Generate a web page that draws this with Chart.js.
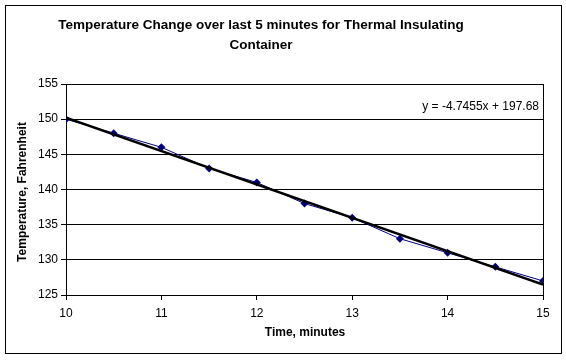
<!DOCTYPE html>
<html>
<head>
<meta charset="utf-8">
<script src="https://cdn.jsdelivr.net/npm/chart.js@4"></script>
<style>
  html, body { margin: 0; padding: 0; background: #fff; }
  #wrap { width: 566px; height: 360px; }
</style>
</head>
<body>
<div id="wrap"><canvas id="chart" width="566" height="360"></canvas></div>
<script>
const minutes = [10, 10.5, 11, 11.5, 12, 12.5, 13, 13.5, 14, 14.5, 15];
const temps = [150, 148, 146, 143, 141, 138, 136, 133, 131, 129, 127];
const trendSlope = -4.7455;
const trendIntercept = 197.68;
const trendLabel = "y = -4.7455x + 197.68";
const titleLines = ["Temperature Change over last 5 minutes for Thermal Insulating", "Container"];
const xTitle = "Time, minutes";
const yTitle = "Temperature, Fahrenheit";

// trendline from the equation shown on the chart
const trendX = [minutes[0], minutes[minutes.length - 1]];
const trendPoints = trendX.map(x => ({ x: x, y: trendSlope * x + trendIntercept }));

const decor = {
  id: "decor",
  beforeDraw(chart) {
    const c = chart.ctx;
    c.save();
    c.fillStyle = "#fff";
    c.fillRect(0, 0, chart.width, chart.height);
    c.restore();
  },
  afterDraw(chart) {
    const c = chart.ctx;
    const a = chart.chartArea;
    c.save();
    c.strokeStyle = "#000";
    c.lineWidth = 1;
    c.strokeRect(5.5, 5.5, 556, 348);
    c.beginPath();
    c.moveTo(Math.round(a.right) + 0.5, a.top);
    c.lineTo(Math.round(a.right) + 0.5, a.bottom);
    c.stroke();

    c.fillStyle = "#000";
    c.textAlign = "center";
    c.textBaseline = "middle";
    c.font = "bold 13.5px 'Liberation Sans', Arial, sans-serif";
    c.fillText(titleLines[0], 261, 25);
    c.fillText(titleLines[1], 261, 45);

    c.font = "bold 12px 'Liberation Sans', Arial, sans-serif";
    c.fillText(xTitle, 305, 333);
    c.save();
    c.translate(23, 192);
    c.rotate(-Math.PI / 2);
    c.fillText(yTitle, 0, 0);
    c.restore();

    c.font = "12px 'Liberation Sans', Arial, sans-serif";
    c.textAlign = "right";
    c.fillText(trendLabel, 539, 107);
    c.restore();
  }
};

new Chart(document.getElementById("chart"), {
  type: "scatter",
  data: {
    datasets: [
      {
        label: "Temperature",
        data: minutes.map((m, i) => ({ x: m, y: temps[i] })),
        showLine: true,
        borderColor: "#000080",
        backgroundColor: "#000080",
        borderWidth: 1,
        pointStyle: "rectRot",
        pointRadius: 4,
        pointBorderWidth: 0,
        order: 2
      },
      {
        label: "Trend",
        data: trendPoints,
        showLine: true,
        borderColor: "#000",
        borderWidth: 2.5,
        pointRadius: 0,
        order: 1
      }
    ]
  },
  options: {
    responsive: false,
    animation: false,
    layout: { padding: { top: 84, right: 23, left: 0, bottom: 0 } },
    plugins: {
      legend: { display: false },
      title: { display: false },
      tooltip: { enabled: false }
    },
    scales: {
      x: {
        type: "linear",
        min: 10,
        max: 15,
        afterFit(s) { s.height = 65; },
        ticks: {
          stepSize: 1,
          color: "#000",
          padding: 6,
          font: { family: "'Liberation Sans', Arial", size: 12 }
        },
        grid: { drawOnChartArea: false, drawTicks: true, tickLength: 5, color: "#000" },
        border: { color: "#000", width: 1 }
      },
      y: {
        min: 125,
        max: 155,
        afterFit(s) { s.width = 66; },
        ticks: {
          stepSize: 5,
          color: "#000",
          padding: 3,
          font: { family: "'Liberation Sans', Arial", size: 12 }
        },
        grid: { color: "#000", tickLength: 5, lineWidth: 1 },
        border: { color: "#000", width: 1 }
      }
    }
  },
  plugins: [decor]
});
</script>
</body>
</html>
